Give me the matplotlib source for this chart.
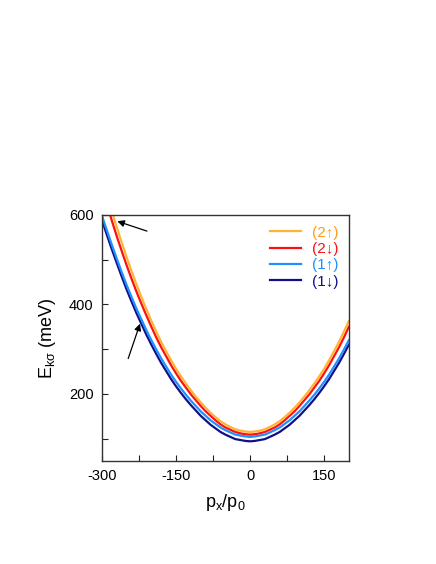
import matplotlib
matplotlib.use("Agg")
import matplotlib.pyplot as plt

plt.rcParams["font.family"] = ["Liberation Sans", "DejaVu Sans"]
plt.rcParams["mathtext.fontset"] = "custom"
plt.rcParams["mathtext.rm"] = "Liberation Sans"
plt.rcParams["mathtext.it"] = "Liberation Sans:italic"
plt.rcParams["axes.unicode_minus"] = False

# |p_x / p_0| grid for the half tables (0, 10, ..., 300)
p_half = list(range(0, 310, 10))

# energies (meV) on that grid; the curves are symmetric around p = 0
e_2up_half = [115, 116, 118, 121, 126, 132, 139, 148, 158, 169, 181, 194, 208,
              223, 239, 256, 275, 295, 316, 339, 363, 389, 416, 444, 474, 505,
              538, 572, 608, 645, 683]
e_2dn_half = [109, 110, 112, 115, 120, 125, 132, 141, 151, 161, 173, 186, 199,
              214, 229, 246, 264, 284, 304, 326, 350, 375, 401, 428, 457, 487,
              519, 552, 587, 623, 660]
e_1up_half = [104, 105, 107, 109, 114, 119, 125, 133, 141, 151, 161, 173, 185,
              198, 212, 227, 243, 261, 279, 299, 320, 342, 366, 390, 416, 443,
              472, 502, 533, 565, 598]
e_1dn_half = [94, 95, 97, 99, 104, 109, 115, 123, 131, 141, 151, 163, 175,
              188, 202, 217, 233, 251, 269, 289, 310, 332, 356, 380, 406, 433,
              462, 492, 523, 555, 588]

labels = ["(2\u2191)", "(2\u2193)", "(1\u2191)", "(1\u2193)"]
line_colors = ["#FFB433", "#FF1010", "#2090FF", "#10108A"]
text_colors = ["#FF9A20", "#FF1010", "#2090FF", "#10108A"]


def mirror(half):
    # values for p = -300 .. 200 from the half table
    return half[30:0:-1] + half[:21]


p = [-v for v in p_half[30:0:-1]] + p_half[:21]
series = [mirror(e_2up_half), mirror(e_2dn_half),
          mirror(e_1up_half), mirror(e_1dn_half)]

fig = plt.figure(figsize=(4.36, 5.64), dpi=100)
ax = fig.add_axes([0.234, 0.1826, 0.566, 0.4362])

handles = [None] * 4
for i in [3, 2, 1, 0]:
    h, = ax.plot(p, series[i], color=line_colors[i], lw=1.6,
                 solid_joinstyle="round", label=labels[i])
    handles[i] = h

ax.set_xlim(-300, 200)
ax.set_ylim(50, 600)
ax.set_xticks([-300, -150, 0, 150])
ax.set_xticks([-225, -75, 75], minor=True)
ax.set_yticks([200, 400, 600])
ax.set_yticks([100, 300, 500], minor=True)
ax.tick_params(which="both", direction="in", length=4, width=0.8,
               labelsize=10.5, pad=6, colors="#222222", labelcolor="black")
for s in ax.spines.values():
    s.set_linewidth(1.0)
    s.set_color("#333333")

ax.set_xlabel("p$_\\mathrm{x}$/p$_0$", fontsize=13, labelpad=6)
ax.set_ylabel("E$_\\mathrm{k\\sigma}$ (meV)", fontsize=13, labelpad=8)

leg = ax.legend(handles=handles, loc="upper right", frameon=False,
                fontsize=11, handlelength=2.0, handletextpad=0.7,
                labelspacing=0.15, borderaxespad=0.3)
for t, c in zip(leg.get_texts(), text_colors):
    t.set_color(c)

ax.annotate("", xy=(-269, 586), xytext=(-209, 564),
            arrowprops=dict(arrowstyle="-|>", color="black", lw=0.9,
                            mutation_scale=10, shrinkA=0, shrinkB=0))
ax.annotate("", xy=(-223, 357), xytext=(-247, 279),
            arrowprops=dict(arrowstyle="-|>", color="black", lw=0.9,
                            mutation_scale=10, shrinkA=0, shrinkB=0))

fig.savefig("out.png", dpi=100)
